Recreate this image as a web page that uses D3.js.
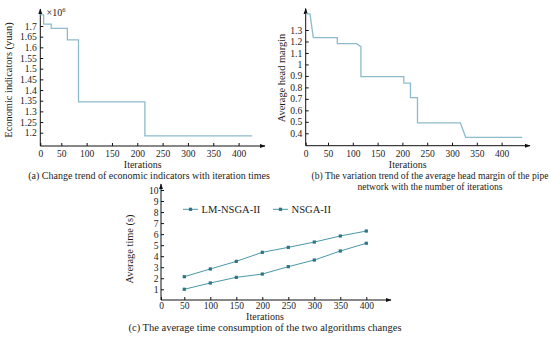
<!DOCTYPE html>
<html><head><meta charset="utf-8">
<script src="https://cdn.jsdelivr.net/npm/d3@7"></script>
<style>
body{margin:0;background:#fff}
text{font-family:"Liberation Serif","Times New Roman",serif;fill:#1c1c1c}
</style>
</head><body>
<svg id="c" width="550" height="339"></svg>
<script>
// ---------- data ----------
const xTicks = [0, 50, 100, 150, 200, 250, 300, 350, 400];

// (a) economic indicator (x10^6 yuan), step after
const iterA = [0, 8, 26, 62, 84, 215, 427];
const econA = [1.752, 1.709, 1.689, 1.635, 1.344, 1.185, 1.185];
const yTicksA = [1.2, 1.25, 1.3, 1.35, 1.4, 1.45, 1.5, 1.55, 1.6, 1.65, 1.7];

// (b) average head margin
const iterB = [0, 9.6, 17, 68.7, 68.7, 107.7, 116.4, 116.4, 202.9, 202.9, 216.3, 216.3, 230.4, 230.4, 316.9, 327.6, 441.5];
const headB = [1.44, 1.44, 1.233, 1.233, 1.181, 1.181, 1.155, 0.893, 0.893, 0.838, 0.838, 0.71, 0.71, 0.49, 0.49, 0.365, 0.365];
const yTicksB = [0.4, 0.5, 0.6, 0.7, 0.8, 0.9, 1, 1.1, 1.2, 1.3];

// (c) average time
const iterC = [50, 100, 150, 200, 250, 300, 350, 400];
const lmC = [1.0, 1.57, 2.08, 2.38, 3.05, 3.65, 4.47, 5.17];
const nsC = [2.14, 2.84, 3.53, 4.35, 4.8, 5.28, 5.83, 6.28];
const yTicksC = [1, 2, 3, 4, 5, 6, 7, 8, 9, 10];
const seriesNames = ["LM-NSGA-II", "NSGA-II"];

// ---------- drawing ----------
const svg = d3.select("#c");
const stepColor = "#8cbccb";
const lineColor = "#4a98a8";
const markColor = "#2b7585";
const fmt = d => String(d);

svg.append("defs").append("marker")
  .attr("id","arr").attr("viewBox","0 0 10 10").attr("refX",9).attr("refY",5)
  .attr("markerWidth",6).attr("markerHeight",6).attr("orient","auto-start-reverse")
  .attr("markerUnits","userSpaceOnUse")
  .append("path").attr("d","M0,1.5L10,5L0,8.5Z").attr("fill","#111");

function panel(o){
  const g = svg.append("g");
  const x = d3.scaleLinear().domain([0,50,400]).range(o.xr);
  const y = d3.scaleLinear().domain(o.yd).range(o.yr);
  const x0 = o.xr[0];
  g.append("line").attr("x1",x0).attr("x2",x0).attr("y1",o.axisY).attr("y2",o.topY)
    .attr("stroke","#111").attr("stroke-width",1).attr("marker-end","url(#arr)");
  g.append("line").attr("x1",x0).attr("x2",o.rightX).attr("y1",o.axisY).attr("y2",o.axisY)
    .attr("stroke","#111").attr("stroke-width",1).attr("marker-end","url(#arr)");
  const ax = g.append("g").attr("transform",`translate(0,${o.axisY})`)
    .call(d3.axisBottom(x).tickValues(xTicks).tickFormat(fmt).tickSize(-3).tickPadding(o.xPad));
  ax.select(".domain").remove();
  ax.selectAll("line").attr("stroke","#111");
  ax.selectAll("text").attr("font-size",9.5).attr("font-family","Liberation Serif").attr("fill","#1c1c1c");
  const ay = g.append("g").attr("transform",`translate(${x0},0)`)
    .call(d3.axisLeft(y).tickValues(o.yTicks).tickFormat(fmt).tickSize(-3).tickPadding(o.yPad));
  ay.select(".domain").remove();
  ay.selectAll("line").attr("stroke","#111");
  ay.selectAll("text").attr("font-size",9.6).attr("font-family","Liberation Serif").attr("fill","#1c1c1c");
  g.append("text").attr("x",o.xtX).attr("y",o.xtY).attr("text-anchor","middle")
    .attr("font-size",10).text("Iterations");
  g.append("text").attr("transform",`translate(${o.ytX},${o.ytY}) rotate(-90)`)
    .attr("text-anchor","middle").attr("font-size",10.4).text(o.ytitle);
  o.caption.forEach((c,i)=>{
    g.append("text").attr("x",o.capX).attr("y",o.capY + i*11).attr("text-anchor","middle")
      .attr("font-size",o.capSize).text(c);
  });
  return {g,x,y};
}

// (a)
const A = panel({xr:[40.3,61.3,238.6], yd:[1.2,1.7], yr:[132.7,26], axisY:146, topY:9, rightX:265,
  yTicks:yTicksA, xPad:4.5, yPad:3.5, xtX:142.7, xtY:168.2, ytX:11.5, ytY:80,
  ytitle:"Economic indicators (yuan)", caption:["(a) Change trend of economic indicators with iteration times"],
  capX:149, capY:179.4, capSize:10});
A.g.append("path").datum(iterA.map((d,i)=>[d,econA[i]]))
  .attr("d", d3.line().x(d=>A.x(d[0])).y(d=>A.y(d[1])).curve(d3.curveStepAfter))
  .attr("fill","none").attr("stroke",stepColor).attr("stroke-width",1.3);
const mt = A.g.append("text").attr("x",46.5).attr("y",15.5).attr("font-size",10);
mt.append("tspan").text("×10");
mt.append("tspan").attr("dy",-4).attr("font-size",6.5).text("6");

// (b)
const B = panel({xr:[305.7,328,501.6], yd:[0.4,1.3], yr:[133.3,30], axisY:145.7, topY:8.5, rightX:530,
  yTicks:yTicksB, xPad:4.5, yPad:3.5, xtX:407.7, xtY:168.2, ytX:284.5, ytY:78,
  ytitle:"Average head margin",
  caption:["(b) The variation trend of the average head margin of the pipe","network with the number of iterations"],
  capX:430, capY:179.4, capSize:9.6});
B.g.append("path").datum(iterB.map((d,i)=>[d,headB[i]]))
  .attr("d", d3.line().x(d=>B.x(d[0])).y(d=>B.y(d[1])))
  .attr("fill","none").attr("stroke",stepColor).attr("stroke-width",1.3);

// (c)
const C = panel({xr:[161,184.3,366.3], yd:[0,10], yr:[300.3,190], axisY:300, topY:184, rightX:391,
  yTicks:yTicksC, xPad:2.5, yPad:2.5, xtX:265, xtY:320, ytX:133, ytY:249,
  ytitle:"Average time (s)",
  caption:["(c) The average time consumption of the two algorithms changes"],
  capX:265, capY:331, capSize:10.5});
[lmC, nsC].forEach(vals=>{
  const pts = iterC.map((d,i)=>[d,vals[i]]);
  C.g.append("path").datum(pts)
    .attr("d", d3.line().x(d=>C.x(d[0])).y(d=>C.y(d[1])))
    .attr("fill","none").attr("stroke",lineColor).attr("stroke-width",1);
  C.g.selectAll(null).data(pts).enter().append("rect")
    .attr("x",d=>C.x(d[0])-1.6).attr("y",d=>C.y(d[1])-1.6).attr("width",3.2).attr("height",3.2)
    .attr("fill",markColor);
});
const legX = [183, 273], legY = 209.3;
seriesNames.forEach((n,i)=>{
  const lg = C.g.append("g").attr("transform",`translate(${legX[i]},${legY})`);
  lg.append("line").attr("x1",0).attr("x2",15).attr("stroke",lineColor).attr("stroke-width",1);
  lg.append("rect").attr("x",5.9).attr("y",-1.6).attr("width",3.2).attr("height",3.2).attr("fill",markColor);
  lg.append("text").attr("x",18.5).attr("y",3.8).attr("font-size",10.6).text(n);
});
</script>
</body></html>
